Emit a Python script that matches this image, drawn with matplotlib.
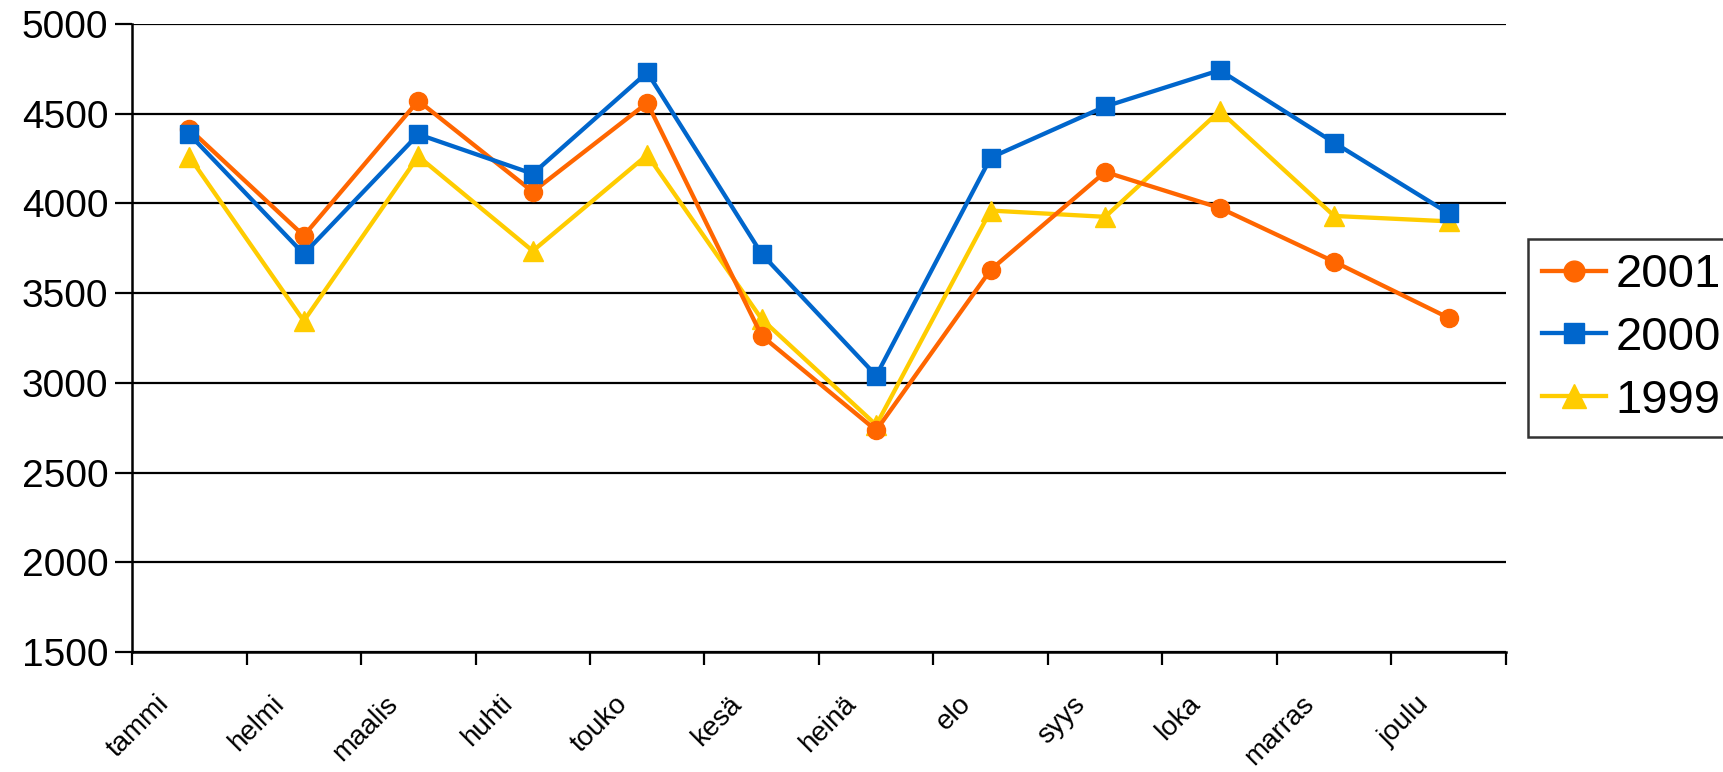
import matplotlib
matplotlib.use("Agg")
import matplotlib.pyplot as plt
import matplotlib.transforms as mtransforms
import numpy as np

months = ["tammi", "helmi", "maalis", "huhti", "touko", "kesä",
          "heinä", "elo", "syys", "loka", "marras", "joulu"]
y2001 = [4415, 3820, 4572, 4065, 4560, 3262, 2735, 3630, 4175, 3975, 3675, 3362]
y2000 = [4385, 3718, 4385, 4165, 4730, 3718, 3040, 4255, 4540, 4742, 4338, 3945]
y1999 = [4260, 3345, 4262, 3735, 4270, 3355, 2765, 3960, 3925, 4515, 3930, 3900]

plt.rcParams["font.family"] = ["Liberation Sans", "DejaVu Sans"]

fig = plt.figure(figsize=(17.24, 7.72), dpi=100)
ax = fig.add_axes([0.0766, 0.1554, 0.7969, 0.8136])

x = np.arange(len(months))
ax.plot(x, y2001, color="#FF6600", lw=3.1, marker="o", ms=13, label="2001", zorder=3)
ax.plot(x, y2000, color="#0066CC", lw=3.1, marker="s", ms=12.5, label="2000", zorder=4)
ax.plot(x, y1999, color="#FFCC00", lw=3.1, marker="^", ms=15, label="1999", zorder=2)

ax.set_ylim(1500, 5000)
ax.set_xlim(-0.5, len(months) - 0.5)
ax.set_yticks(np.arange(1500, 5001, 500))
ax.yaxis.grid(True, color="black", lw=1.6)
ax.set_axisbelow(True)

# ticks between categories, labels at category centers
ax.set_xticks(np.arange(-0.5, len(months), 1.0))
ax.set_xticklabels([])
ax.set_xticks(x, minor=True)
ax.set_xticklabels(months, minor=True, rotation=45, ha="right", va="top",
                   rotation_mode="anchor", fontsize=20)
ax.tick_params(axis="x", which="minor", length=0, pad=28)
ax.tick_params(axis="x", which="major", length=9, width=1.6)
ax.tick_params(axis="y", length=12, width=1.6, labelsize=28, pad=5)
shift = mtransforms.ScaledTranslation(-0.33, 0, fig.dpi_scale_trans)
for lab in ax.get_xticklabels(minor=True):
    lab.set_transform(lab.get_transform() + shift)

for s in ["top", "right"]:
    ax.spines[s].set_visible(False)
for s in ["left", "bottom"]:
    ax.spines[s].set_linewidth(1.8)
    ax.spines[s].set_color("black")

leg = ax.legend(loc="center left", bbox_to_anchor=(1.016, 0.5), fontsize=34,
                frameon=True, fancybox=False, edgecolor="black",
                handlelength=1.35, handletextpad=0.2, borderpad=0.3,
                labelspacing=0.4, borderaxespad=0, markerscale=1.15)
leg.get_frame().set_linewidth(1.8)

fig.savefig("out.png", dpi=100)
